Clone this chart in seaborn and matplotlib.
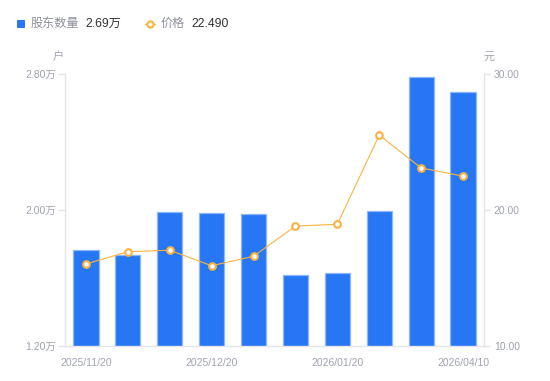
import matplotlib
matplotlib.use("Agg")
import matplotlib.pyplot as plt
import matplotlib.patches as mpatches
from matplotlib.lines import Line2D
import seaborn as sns
import pandas as pd
import numpy as np

dates = ["2025/11/20", "2025/11/30", "2025/12/10", "2025/12/20", "2025/12/31",
         "2026/01/10", "2026/01/20", "2026/03/10", "2026/03/31", "2026/04/10"]
holders_wan = [1.763, 1.734, 1.990, 1.982, 1.975, 1.619, 1.628, 1.992, 2.783, 2.692]
price = [16.03, 16.93, 17.04, 15.90, 16.60, 18.82, 18.95, 25.51, 23.09, 22.49]
left_ticks = [1.20, 2.00, 2.80]
right_ticks = [10.0, 20.0, 30.0]
shown_dates = ["2025/11/20", "2025/12/20", "2026/01/20", "2026/04/10"]

sns.set_theme(style="white")
plt.rcParams['font.family'] = ['Liberation Sans', 'Noto Sans CJK SC', 'DejaVu Sans']

BLUE = "#2777F4"
BLUE_EDGE = "#8DB6F9"
ORANGE = "#FBB33F"
GREY_TXT = "#A0A3B1"
AXIS = "#E3E5EA"

df = pd.DataFrame({"date": dates, "holders": holders_wan, "price": price})

W, H = 550, 381
fig = plt.figure(figsize=(W / 100, H / 100), dpi=100)
ax = fig.add_axes([65 / W, 1 - 346 / H, (484 - 65) / W, (346 - 74) / H])

sns.barplot(data=df, x="date", y="holders", ax=ax, color=BLUE, width=0.6,
            edgecolor=BLUE_EDGE, linewidth=0.9, saturation=1)
ax.set_ylim(1.2, 2.8)
ax.set_xlim(-0.5, len(dates) - 0.5)
ax.set_yticks(left_ticks)
ax.set_yticklabels([f"{v:.2f}万" for v in left_ticks])
ax.set_xticks([dates.index(d) for d in shown_dates])
ax.set_xticklabels(shown_dates)
ax.set_xlabel("")
ax.set_ylabel("")

ax2 = ax.twinx()
sns.lineplot(data=df, x="date", y="price", ax=ax2, sort=False, color=ORANGE,
             linewidth=0.8, marker="o", markersize=4.8, markerfacecolor="white",
             markeredgecolor=ORANGE, markeredgewidth=1.5)
ax2.set_ylim(10, 30)
ax2.set_xlim(-0.5, len(dates) - 0.5)
ax2.set_yticks(right_ticks)
ax2.set_yticklabels([f"{v:.2f}" for v in right_ticks])
ax2.set_xlabel("")
ax2.set_ylabel("")

for a in (ax, ax2):
    for s in a.spines.values():
        s.set_visible(False)
    a.grid(False)
    a.set_facecolor("none")

ax.spines["left"].set_visible(True)
ax.spines["left"].set_color(AXIS)
ax.spines["left"].set_linewidth(1)
ax.spines["bottom"].set_visible(True)
ax.spines["bottom"].set_color(AXIS)
ax.spines["bottom"].set_linewidth(1)
ax2.spines["right"].set_visible(True)
ax2.spines["right"].set_color(AXIS)
ax2.spines["right"].set_linewidth(1)

ax.tick_params(axis="y", left=True, length=5, width=1, color=AXIS, pad=1.5,
               labelsize=7.5, labelcolor=GREY_TXT)
ax.tick_params(axis="x", bottom=False, pad=3, labelsize=7.5, labelcolor=GREY_TXT)
ax2.tick_params(axis="y", right=True, length=4, width=1, color=AXIS, pad=3,
                labelsize=7.5, labelcolor=GREY_TXT)

fig.text(58 / W, 1 - 57 / H, "户", ha="center", va="center", fontsize=8, color=GREY_TXT)
fig.text(489 / W, 1 - 57 / H, "元", ha="center", va="center", fontsize=8, color=GREY_TXT)

# legend
ly = 1 - 24 / H
fig.patches.append(mpatches.FancyBboxPatch((17 / W, 1 - 28 / H), 8 / W, 8 / H,
                   boxstyle="round,pad=0,rounding_size=0.002", transform=fig.transFigure,
                   facecolor=BLUE, edgecolor="none"))
fig.text(31 / W, ly, "股东数量", ha="left", va="center", fontsize=8.7, color="#8E919C")
fig.text(85 / W, ly, "2.69万", ha="left", va="center", fontsize=8.7, color="#333333")
fig.add_artist(Line2D([145 / W, 155 / W], [ly, ly], transform=fig.transFigure,
                      color=ORANGE, linewidth=1))
fig.add_artist(Line2D([150 / W], [ly], transform=fig.transFigure, marker="o",
                      markersize=4.5, markerfacecolor="white", markeredgecolor=ORANGE,
                      markeredgewidth=1.5, linestyle="none"))
fig.text(161 / W, ly, "价格", ha="left", va="center", fontsize=8.7, color="#8E919C")
fig.text(191 / W, ly, "22.490", ha="left", va="center", fontsize=8.7, color="#333333")

fig.savefig("out.png", dpi=100)
